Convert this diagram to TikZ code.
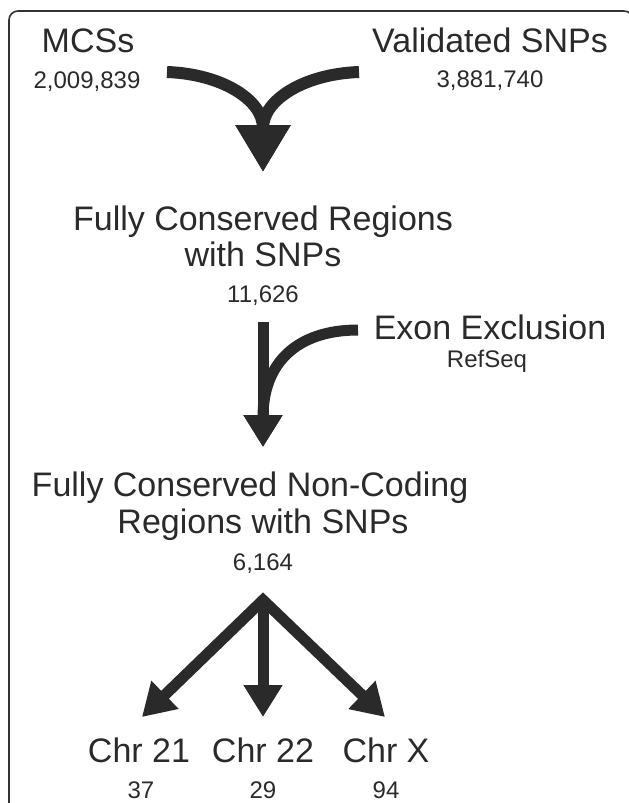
\documentclass[tikz,border=0pt]{standalone}
\usepackage{fontspec}
\setmainfont{Liberation Sans}
\usetikzlibrary{arrows.meta}
\definecolor{ink}{HTML}{2A2A2A}
\definecolor{frame}{HTML}{333333}
\tikzset{
  big/.style={font=\fontsize{34}{40}\selectfont, text=ink, inner sep=0pt, anchor=base},
  small/.style={font=\fontsize{24}{28}\selectfont, text=ink, inner sep=0pt, anchor=base},
  flow/.style={draw=ink, line width=11pt, line join=miter, -{Triangle[width=37pt,length=32pt]}},
  mergeflow/.style={draw=ink, line width=12pt, -{Triangle[width=52pt,length=47pt]}},
}
\begin{document}
\begin{tikzpicture}[x=1pt,y=-1pt]
\useasboundingbox (0,0) rectangle (629,803);
\clip (0,0) rectangle (629,803);
\draw[frame, line width=1.6pt, rounded corners=9pt] (9,11) rectangle (633,860);

% texts
\node[big]   (mcs)  at (88,52)  {MCSs};
\node[small] (mcsn) at (87,88)  {2,009,839};
\node[big]   (val)  at (490,52) {Validated SNPs};
\node[small] (valn) at (490,87) {3,881,740};

\node[big]   (fcr1) at (263,230) {Fully Conserved Regions};
\node[big]   (fcr2) at (263,266) {with SNPs};
\node[small] (fcrn) at (263,302) {11,626};

\node[big]   (exon) at (490,339) {Exon Exclusion};
\node[small] (ref)  at (487,367) {RefSeq};

\node[big]   (nc1)  at (250,496) {Fully Conserved Non-Coding};
\node[big]   (nc2)  at (263,533) {Regions with SNPs};
\node[small] (ncn)  at (263,570) {6,164};

\node[big]   (c21)  at (139,762) {Chr 21};
\node[big]   (c22)  at (263,762) {Chr 22};
\node[big]   (cX)   at (386,762) {Chr X};
\node[small] (c21n) at (141,798) {37};
\node[small] (c22n) at (263,798) {29};
\node[small] (cXn)  at (386,798) {94};

% connector coordinates
\coordinate (lstart) at (167,72);
\coordinate (rstart) at (359,72);
\coordinate (mtip)   at (263,172);
\coordinate (vstart) at (263,322);
\coordinate (estart) at (358,330);
\coordinate (etip)   at (263,447);
\coordinate (split)  at (263,600);
\coordinate (t21)    at (142,717);
\coordinate (t22)    at (263,717);
\coordinate (tX)     at (385,717);

% top merging arrows
\draw[mergeflow] (lstart) .. controls (222,74) and (263,100) .. (mtip);
\draw[mergeflow] (rstart) .. controls (304,74) and (263,100) .. (mtip);

% exon exclusion
\draw[flow] (vstart) -- (etip);
\draw[flow] (estart) .. controls (298,330) and (263,362) .. (etip);

% split into chromosomes
\draw[flow, {Triangle[width=37pt,length=32pt]}-{Triangle[width=37pt,length=32pt]}] (t21) -- (split) -- (tX);
\draw[flow] (split) -- (t22);
\end{tikzpicture}
\end{document}
